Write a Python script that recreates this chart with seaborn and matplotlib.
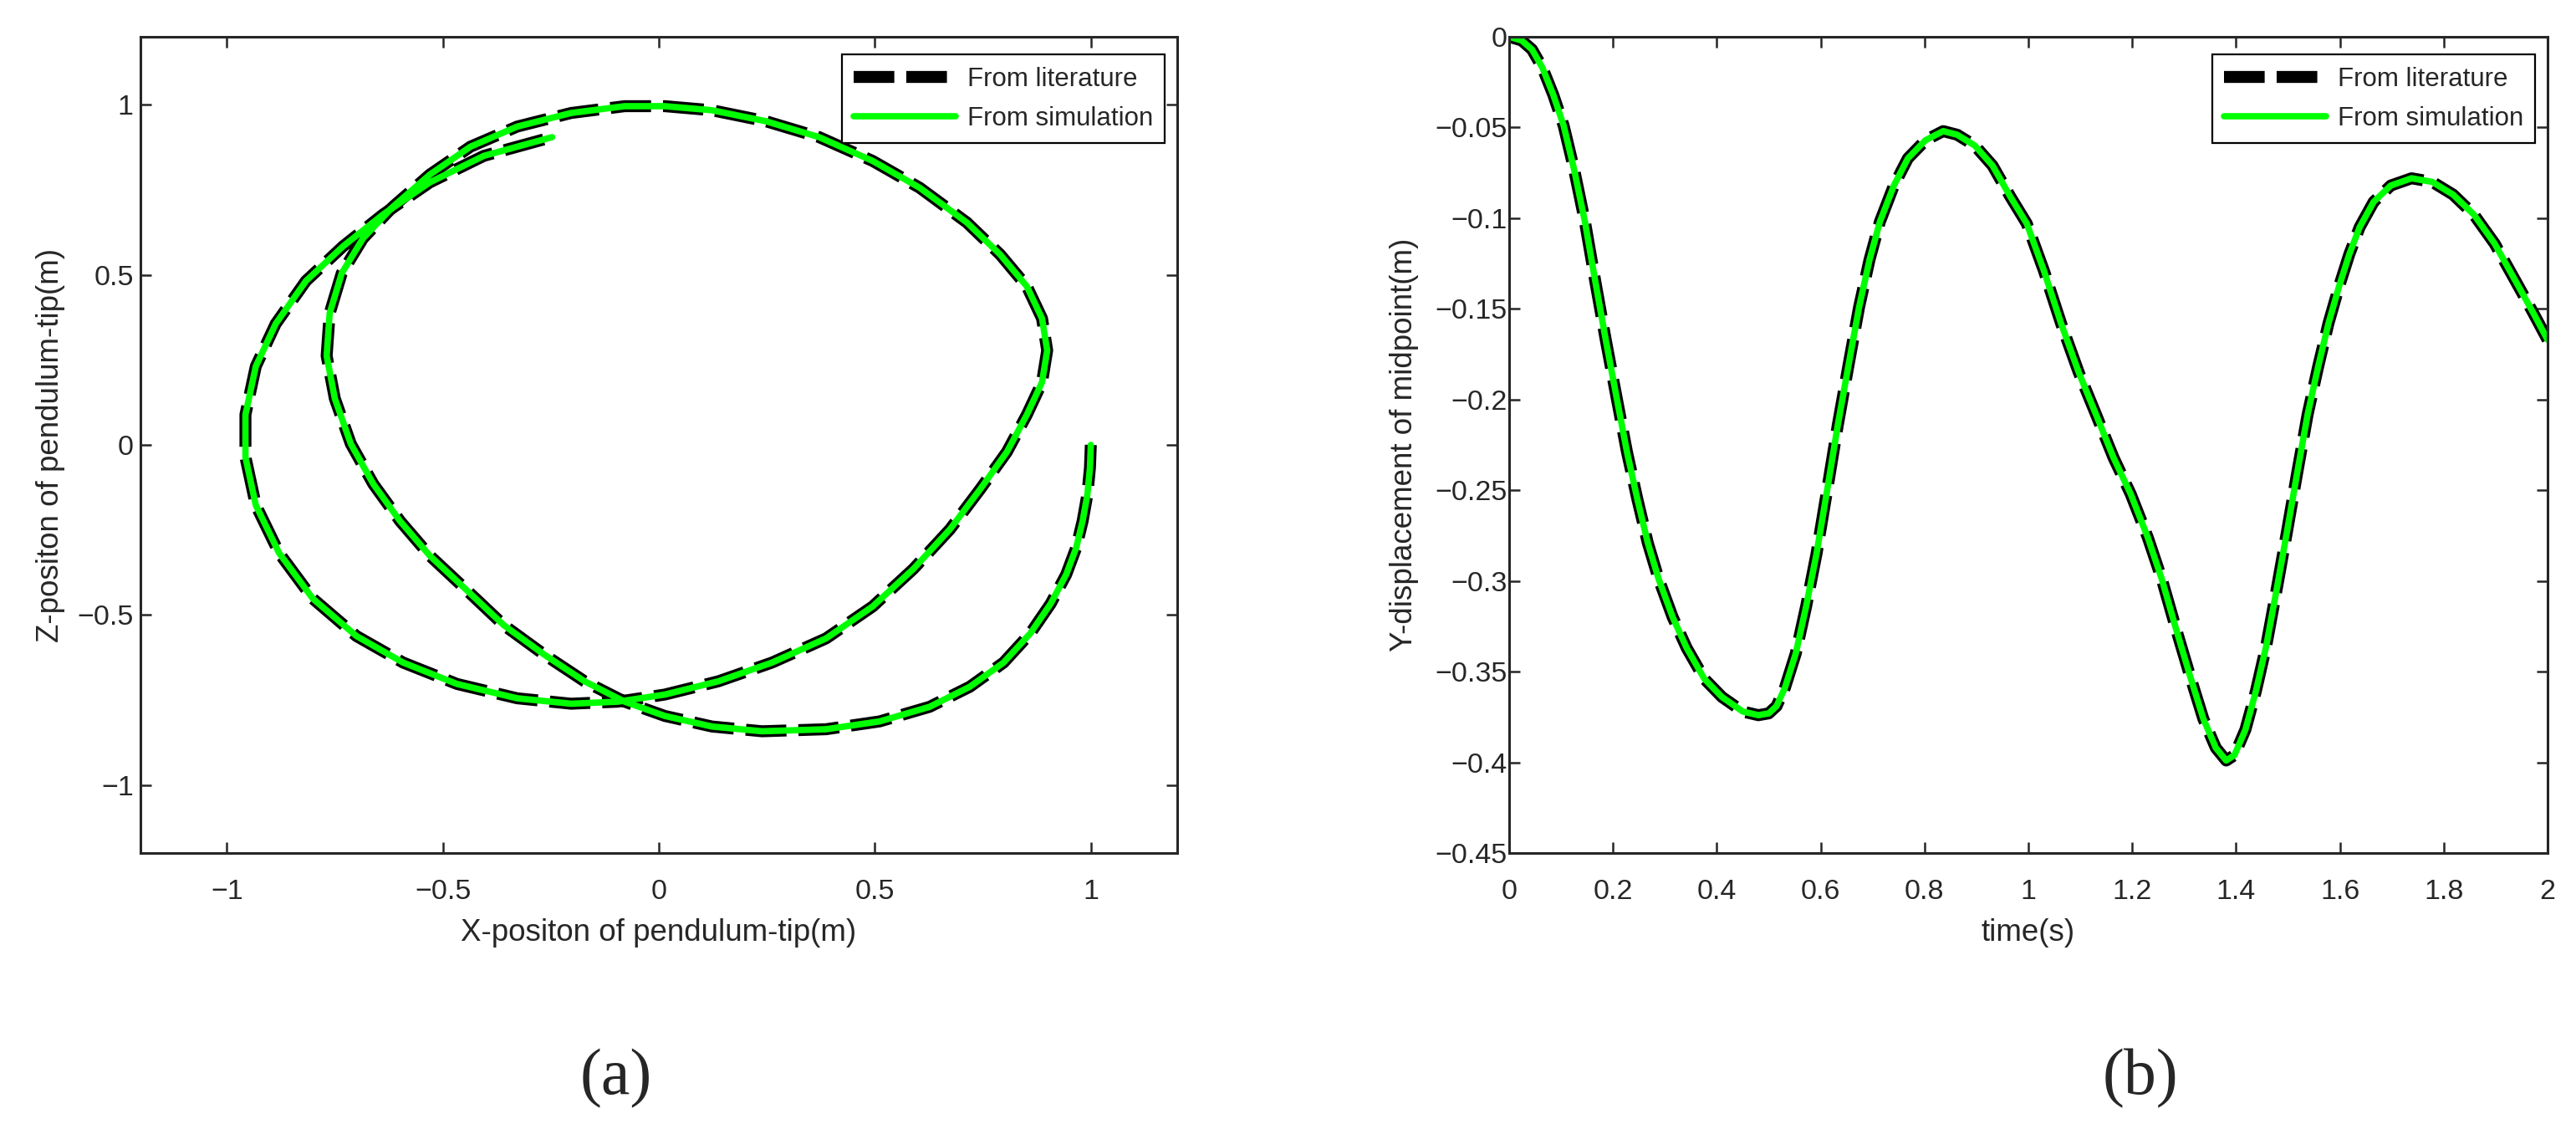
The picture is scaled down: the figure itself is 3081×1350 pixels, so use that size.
import numpy as np
import pandas as pd
import seaborn as sns
import matplotlib.pyplot as plt
from matplotlib.ticker import FuncFormatter

# (a) pendulum-tip path in the x-z plane (m), read in order along the trajectory
tip_x = [1.000, 0.998, 0.992, 0.981, 0.966, 0.943, 0.907, 0.860, 0.798, 0.720,
         0.627, 0.511, 0.387, 0.239, 0.123, 0.014, -0.079, -0.172, -0.266, -0.359,
         -0.444, -0.530, -0.599, -0.661, -0.713, -0.750, -0.769, -0.762, -0.734, -0.685,
         -0.615, -0.530, -0.436, -0.328, -0.203, -0.079, 0.014, 0.123, 0.247, 0.371,
         0.495, 0.604, 0.713, 0.790, 0.852, 0.887, 0.899, 0.887, 0.852, 0.806,
         0.744, 0.674, 0.589, 0.495, 0.387, 0.262, 0.138, 0.014, -0.095, -0.203,
         -0.328, -0.467, -0.592, -0.700, -0.801, -0.879, -0.933, -0.957, -0.957, -0.933,
         -0.887, -0.817, -0.731, -0.638, -0.530, -0.405, -0.247]
tip_z = [0.000, -0.067, -0.146, -0.224, -0.303, -0.381, -0.467, -0.554, -0.640, -0.711,
         -0.770, -0.813, -0.836, -0.842, -0.828, -0.797, -0.755, -0.695, -0.616, -0.530,
         -0.428, -0.326, -0.224, -0.115, 0.003, 0.136, 0.262, 0.387, 0.505, 0.607,
         0.701, 0.795, 0.877, 0.936, 0.976, 0.996, 0.996, 0.984, 0.952, 0.905,
         0.835, 0.756, 0.654, 0.560, 0.466, 0.372, 0.278, 0.184, 0.089, -0.020,
         -0.130, -0.248, -0.365, -0.475, -0.569, -0.640, -0.695, -0.734, -0.755, -0.761,
         -0.745, -0.703, -0.640, -0.562, -0.452, -0.318, -0.177, -0.036, 0.089, 0.231,
         0.356, 0.482, 0.584, 0.678, 0.772, 0.850, 0.905]

# (b) y-displacement of the midpoint (m) against time (s)
time_s = [0.000, 0.024, 0.044, 0.064, 0.085, 0.105, 0.125, 0.146, 0.166, 0.186,
          0.207, 0.227, 0.247, 0.267, 0.288, 0.315, 0.342, 0.376, 0.410, 0.450,
          0.480, 0.500, 0.515, 0.531, 0.552, 0.572, 0.592, 0.613, 0.633, 0.653,
          0.674, 0.694, 0.714, 0.741, 0.768, 0.802, 0.836, 0.863, 0.897, 0.931,
          0.965, 0.997, 1.030, 1.063, 1.097, 1.130, 1.164, 1.197, 1.230, 1.257,
          1.284, 1.311, 1.337, 1.361, 1.381, 1.397, 1.418, 1.438, 1.458, 1.478,
          1.498, 1.518, 1.538, 1.558, 1.578, 1.598, 1.618, 1.638, 1.665, 1.698,
          1.738, 1.778, 1.818, 1.858, 1.898, 1.939, 1.972, 2.000]
mid_y = [0.000, -0.002, -0.007, -0.017, -0.032, -0.049, -0.073, -0.102, -0.135, -0.167,
         -0.199, -0.229, -0.255, -0.279, -0.299, -0.320, -0.337, -0.354, -0.364, -0.372,
         -0.374, -0.373, -0.369, -0.359, -0.340, -0.314, -0.285, -0.249, -0.214, -0.182,
         -0.149, -0.123, -0.102, -0.082, -0.067, -0.057, -0.052, -0.054, -0.060, -0.071,
         -0.088, -0.103, -0.129, -0.158, -0.185, -0.208, -0.232, -0.252, -0.276, -0.299,
         -0.326, -0.352, -0.376, -0.392, -0.399, -0.396, -0.382, -0.361, -0.336, -0.305,
         -0.273, -0.240, -0.208, -0.182, -0.158, -0.138, -0.120, -0.105, -0.091, -0.082,
         -0.078, -0.080, -0.087, -0.098, -0.114, -0.135, -0.152, -0.167]

series = ['From literature', 'From simulation']

df_a = pd.DataFrame({'x': tip_x, 'z': tip_z})
df_b = pd.DataFrame({'t': time_s, 'y': mid_y})

sns.set_style('ticks')
plt.rcParams['font.family'] = ['Liberation Sans', 'DejaVu Sans']
plt.rcParams['axes.edgecolor'] = '#262626'

W, H = 3081, 1350
fig = plt.figure(figsize=(W / 100, H / 100), dpi=100)
ax_a = fig.add_axes([168 / W, 1 - 1020 / H, 1240 / W, 976 / H])
ax_b = fig.add_axes([1805 / W, 1 - 1020 / H, 1242 / W, 976 / H])

lit_style = dict(color='black', linewidth=10.3, linestyle=(0, (3.4, 1.0)),
                 solid_capstyle='butt', dash_capstyle='butt')
sim_style = dict(color='#00ff00', linewidth=5.5, solid_capstyle='round')

sns.lineplot(data=df_a, x='x', y='z', sort=False, estimator=None, ax=ax_a,
             label=series[0], **lit_style)
sns.lineplot(data=df_a, x='x', y='z', sort=False, estimator=None, ax=ax_a,
             label=series[1], **sim_style)
sns.lineplot(data=df_b, x='t', y='y', sort=False, estimator=None, ax=ax_b,
             label=series[0], **lit_style)
sns.lineplot(data=df_b, x='t', y='y', sort=False, estimator=None, ax=ax_b,
             label=series[1], **sim_style)

fmt = FuncFormatter(lambda v, p: ('%g' % round(v, 3)).replace('-', '\u2212'))

ax_a.set_xlim(-1.2, 1.2)
ax_a.set_ylim(-1.2, 1.2)
ax_a.set_xticks([-1, -0.5, 0, 0.5, 1])
ax_a.set_yticks([-1, -0.5, 0, 0.5, 1])
ax_b.set_xlim(0, 2)
ax_b.set_ylim(-0.45, 0)
ax_b.set_xticks(np.linspace(0, 2, 11))
ax_b.set_yticks(np.linspace(-0.45, 0, 10))

label_kw = dict(fontsize=26.5, color='#262626')
ax_a.set_xlabel('X-positon of pendulum-tip(m)', labelpad=12, **label_kw)
ax_a.set_ylabel('Z-positon of pendulum-tip(m)', labelpad=10, **label_kw)
ax_b.set_xlabel('time(s)', labelpad=12, **label_kw)
ax_b.set_ylabel('Y-displacement of midpoint(m)', labelpad=14, **label_kw)

for ax, ypad in [(ax_a, 6), (ax_b, 1.5)]:
    ax.xaxis.set_major_formatter(fmt)
    ax.yaxis.set_major_formatter(fmt)
    ax.tick_params(direction='in', top=True, right=True, length=9.4, width=1.8,
                   color='#262626', labelcolor='#262626', labelsize=24.5)
    ax.tick_params(axis='x', pad=22)
    ax.tick_params(axis='y', pad=ypad)
    for s in ax.spines.values():
        s.set_linewidth(2.2)
        s.set_color('#262626')
    leg = ax.legend(loc='upper right', bbox_to_anchor=(0.988, 0.978), fontsize=22.5,
                    frameon=True, fancybox=False, framealpha=1, edgecolor='black',
                    handlelength=3.9, handletextpad=0.45, labelspacing=0.55,
                    borderpad=0.45, borderaxespad=0)
    leg.get_frame().set_linewidth(1.6)

fig.text(737 / W, 1 - 1290 / H, '(a)', ha='center', va='center', fontsize=56,
         family=['Liberation Serif', 'DejaVu Serif'])
fig.text(2560 / W, 1 - 1290 / H, '(b)', ha='center', va='center', fontsize=56,
         family=['Liberation Serif', 'DejaVu Serif'])

fig.savefig('out.png', dpi=100, facecolor='white')
